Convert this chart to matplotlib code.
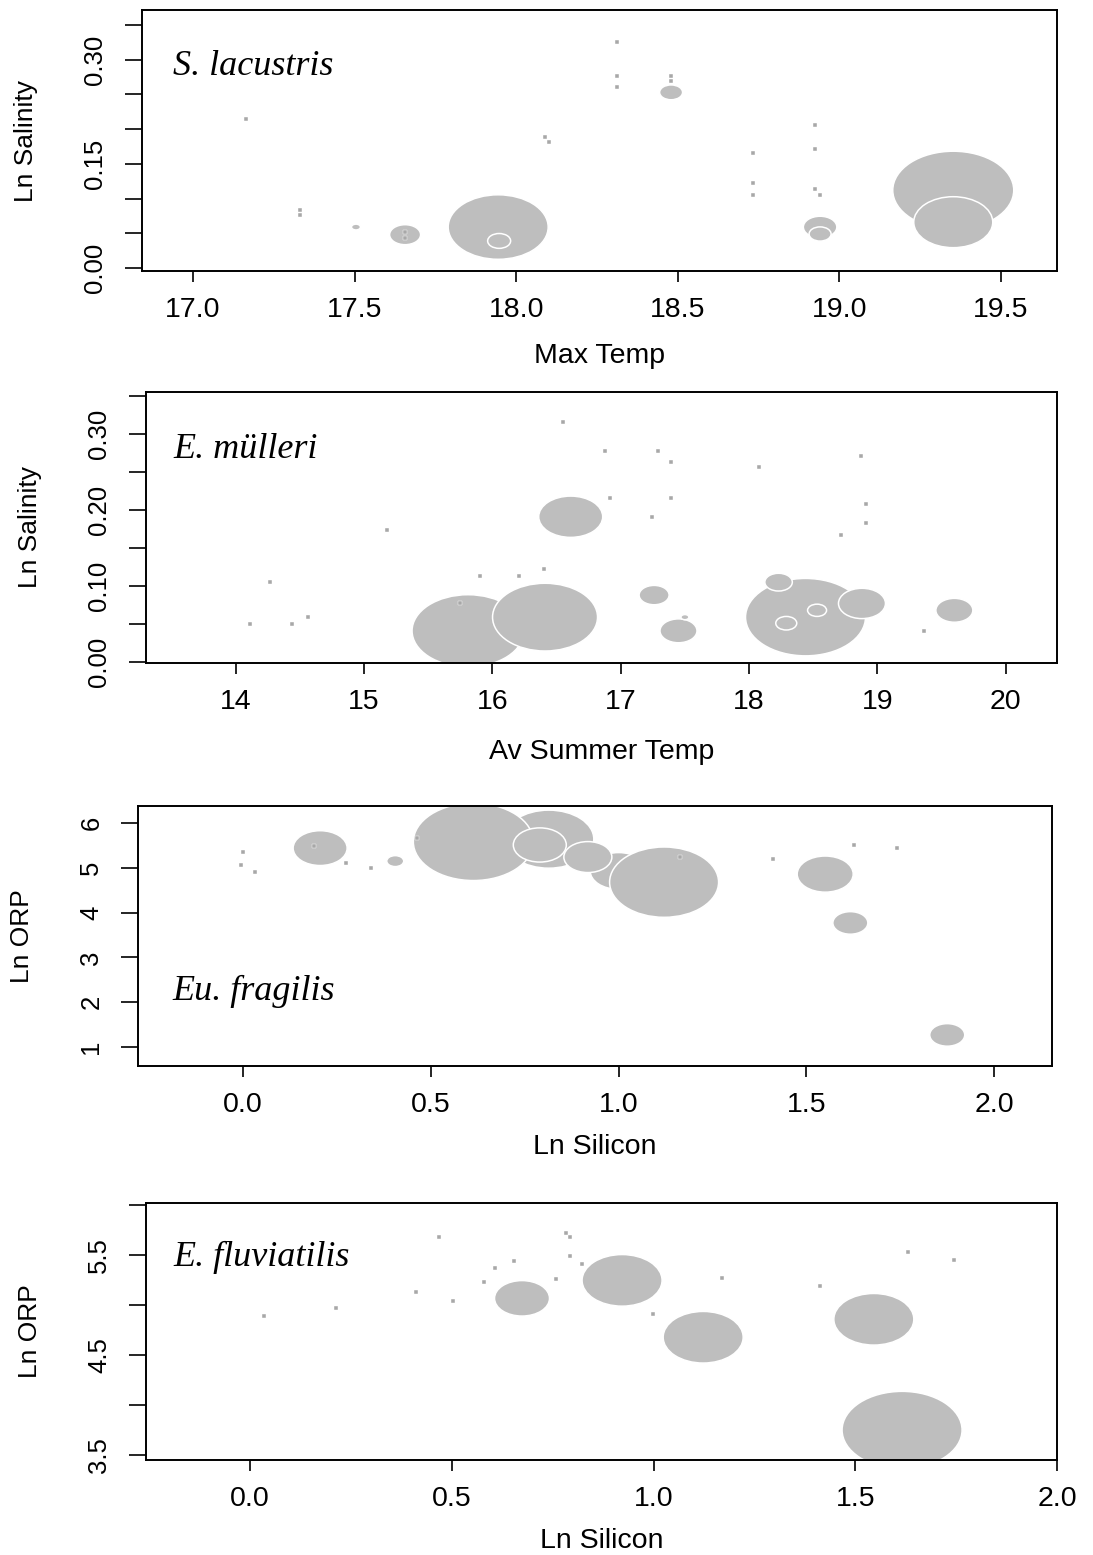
import matplotlib
matplotlib.use('Agg')
import matplotlib.pyplot as plt
import numpy as np
from matplotlib.path import Path
from matplotlib.markers import MarkerStyle

plt.rcParams['font.family'] = ['Liberation Sans', 'DejaVu Sans']

# S. lacustris: abundance bubbles over max temp / ln salinity
sl_temp = [17.944, 17.947, 17.504, 17.656, 18.479, 18.94, 18.94, 19.352, 19.352]
sl_sal = [0.059, 0.039, 0.059, 0.048, 0.253, 0.059, 0.049, 0.112, 0.066]
sl_abund = [10.0, 2.3, 0.9, 3.1, 2.3, 3.35, 2.2, 12.1, 7.9]
sl_zero_temp = [17.165, 17.33, 17.33, 18.09, 18.10, 18.312, 18.312, 18.312, 18.479, 18.479,
                18.733, 18.733, 18.733, 18.925, 18.925, 18.925, 18.94, 17.656, 17.656]
sl_zero_sal = [0.215, 0.084, 0.076, 0.189, 0.182, 0.326, 0.277, 0.261, 0.277, 0.269,
               0.165, 0.123, 0.105, 0.206, 0.172, 0.114, 0.105, 0.052, 0.043]

# E. mulleri: av summer temp / ln salinity
em_temp = [15.81, 16.41, 16.61, 17.26, 17.45, 17.50, 18.44, 18.23, 18.53, 18.29, 18.88, 19.60]
em_sal = [0.041, 0.059, 0.191, 0.088, 0.041, 0.059, 0.059, 0.105, 0.068, 0.051, 0.077, 0.068]
em_abund = [11.2, 10.5, 6.4, 3.0, 3.7, 0.8, 12.0, 2.75, 1.9, 2.1, 4.7, 3.7]
em_zero_temp = [15.18, 14.27, 14.11, 14.44, 14.56, 15.90, 16.21, 16.40, 15.75, 16.55, 16.88,
                17.29, 17.39, 18.08, 18.87, 16.92, 17.39, 17.24, 18.91, 18.91, 18.72, 19.36]
em_zero_sal = [0.173, 0.105, 0.050, 0.050, 0.059, 0.113, 0.113, 0.122, 0.077, 0.315, 0.278,
               0.278, 0.263, 0.257, 0.271, 0.216, 0.216, 0.191, 0.208, 0.183, 0.167, 0.041]

# Eu. fragilis: ln silicon / ln ORP
ef_sil = [0.814, 0.613, 0.79, 1.0, 1.121, 0.918, 0.205, 0.405, 1.55, 1.617, 1.875]
ef_orp = [5.64, 5.58, 5.51, 4.93, 4.68, 5.24, 5.44, 5.15, 4.86, 3.77, 1.27]
ef_abund = [9.0, 12.0, 5.3, 5.7, 10.9, 4.8, 5.4, 1.7, 5.6, 3.5, 3.5]
ef_zero_sil = [0.19, 0.463, 0.0, -0.005, 0.032, 0.275, 0.34, 1.164, 1.41, 1.627, 1.742]
ef_zero_orp = [5.49, 5.66, 5.35, 5.06, 4.91, 5.11, 5.00, 5.24, 5.20, 5.51, 5.44]

# E. fluviatilis: ln silicon / ln ORP
efl_sil = [0.674, 0.922, 1.123, 1.546, 1.616]
efl_orp = [5.07, 5.25, 4.68, 4.86, 3.75]
efl_abund = [5.5, 8.0, 8.0, 8.0, 12.0]
efl_zero_sil = [0.034, 0.213, 0.41, 0.467, 0.503, 0.606, 0.653, 0.58, 0.757, 0.783, 0.793,
                0.793, 0.822, 1.17, 0.999, 1.413, 1.63, 1.745]
efl_zero_orp = [4.89, 4.97, 5.13, 5.68, 5.04, 5.37, 5.44, 5.23, 5.26, 5.72, 5.68,
                5.49, 5.41, 5.27, 4.91, 5.19, 5.53, 5.45]

W, H = 1093, 1555
fig = plt.figure(figsize=(W / 100, H / 100), dpi=100)

# circles come out squashed on this device, so use a flattened marker
circ = Path.unit_circle()
ell = MarkerStyle(Path(circ.vertices * [1.0, 1 / 1.55], circ.codes))
GREY = '#bebebe'


def panel(box, x, y, ab, zx, zy, xlim, ylim, xt, yt, ylabs, xlab, ylab, name, name_y):
    l, r, t, b = box
    ax = fig.add_axes([l / W, (H - b) / H, (r - l) / W, (b - t) / H])
    sizes = (np.array(ab) * 10 * 0.72) ** 2
    ax.scatter(x, y, s=sizes, marker=ell, c=GREY, edgecolors='white', linewidths=1.1, zorder=2)
    ax.scatter(zx, zy, s=6, marker='s', c='#a8a8a8', edgecolors='white', linewidths=0.3, zorder=3)
    ax.set_xlim(xlim)
    ax.set_ylim(ylim)
    ax.set_xticks(xt)
    ax.set_xticklabels(['%g' % v if '.' not in str(v) else '%.1f' % v for v in xt])
    ax.set_yticks(yt)
    ax.set_yticklabels(ylabs, rotation=90, va='center')
    for s in ax.spines.values():
        s.set_linewidth(1.4)
    ax.tick_params(axis='x', direction='out', length=8, width=1.2, labelsize=20.5, pad=10.5)
    ax.tick_params(axis='y', direction='out', length=12, width=1.2, labelsize=18.5, pad=13)
    ax.set_xlabel(xlab, fontsize=20.5)
    ax.set_ylabel(ylab, fontsize=19)
    ax.xaxis.label.set_va('center')
    ax.yaxis.label.set_va('center')
    ax.xaxis.set_label_coords(0.5, (b - name_y[1]) / (b - t))
    ax.yaxis.set_label_coords(-0.127, 0.5)
    ax.text(name_y[0], name_y[2], name, transform=ax.transAxes, fontsize=26, style='italic',
            family='Liberation Serif', va='center', ha='left')
    return ax


panel((142, 1057, 10, 271), sl_temp, sl_sal, sl_abund, sl_zero_temp, sl_zero_sal,
      (16.842, 19.673), (-0.0043, 0.3716), [17.0, 17.5, 18.0, 18.5, 19.0, 19.5],
      np.arange(0, 0.36, 0.05), ['0.00', '', '', '0.15', '', '', '0.30', ''],
      'Max Temp', 'Ln Salinity', 'S. lacustris', (0.034, 356, 0.785))

panel((146, 1057, 392, 663), em_temp, em_sal, em_abund, em_zero_temp, em_zero_sal,
      (13.30, 20.40), (-0.0013, 0.355), [14, 15, 16, 17, 18, 19, 20],
      np.arange(0, 0.36, 0.05), ['0.00', '', '0.10', '', '0.20', '', '0.30', ''],
      'Av Summer Temp', 'Ln Salinity', 'E. m\u00fclleri', (0.030, 752, 0.786))

panel((138, 1052, 806, 1066), ef_sil, ef_orp, ef_abund, ef_zero_sil, ef_zero_orp,
      (-0.28, 2.154), (0.576, 6.38), [0.0, 0.5, 1.0, 1.5, 2.0],
      [1, 2, 3, 4, 5, 6], ['1', '2', '3', '4', '5', '6'],
      'Ln Silicon', 'Ln ORP', 'Eu. fragilis', (0.038, 1147, 0.285))

panel((146, 1057, 1203, 1460), efl_sil, efl_orp, efl_abund, efl_zero_sil, efl_zero_orp,
      (-0.258, 2.0), (3.45, 6.025), [0.0, 0.5, 1.0, 1.5, 2.0],
      [3.5, 4.0, 4.5, 5.0, 5.5, 6.0], ['3.5', '', '4.5', '', '5.5', ''],
      'Ln Silicon', 'Ln ORP', 'E. fluviatilis', (0.030, 1541, 0.79))

fig.savefig('out.png', dpi=100)
